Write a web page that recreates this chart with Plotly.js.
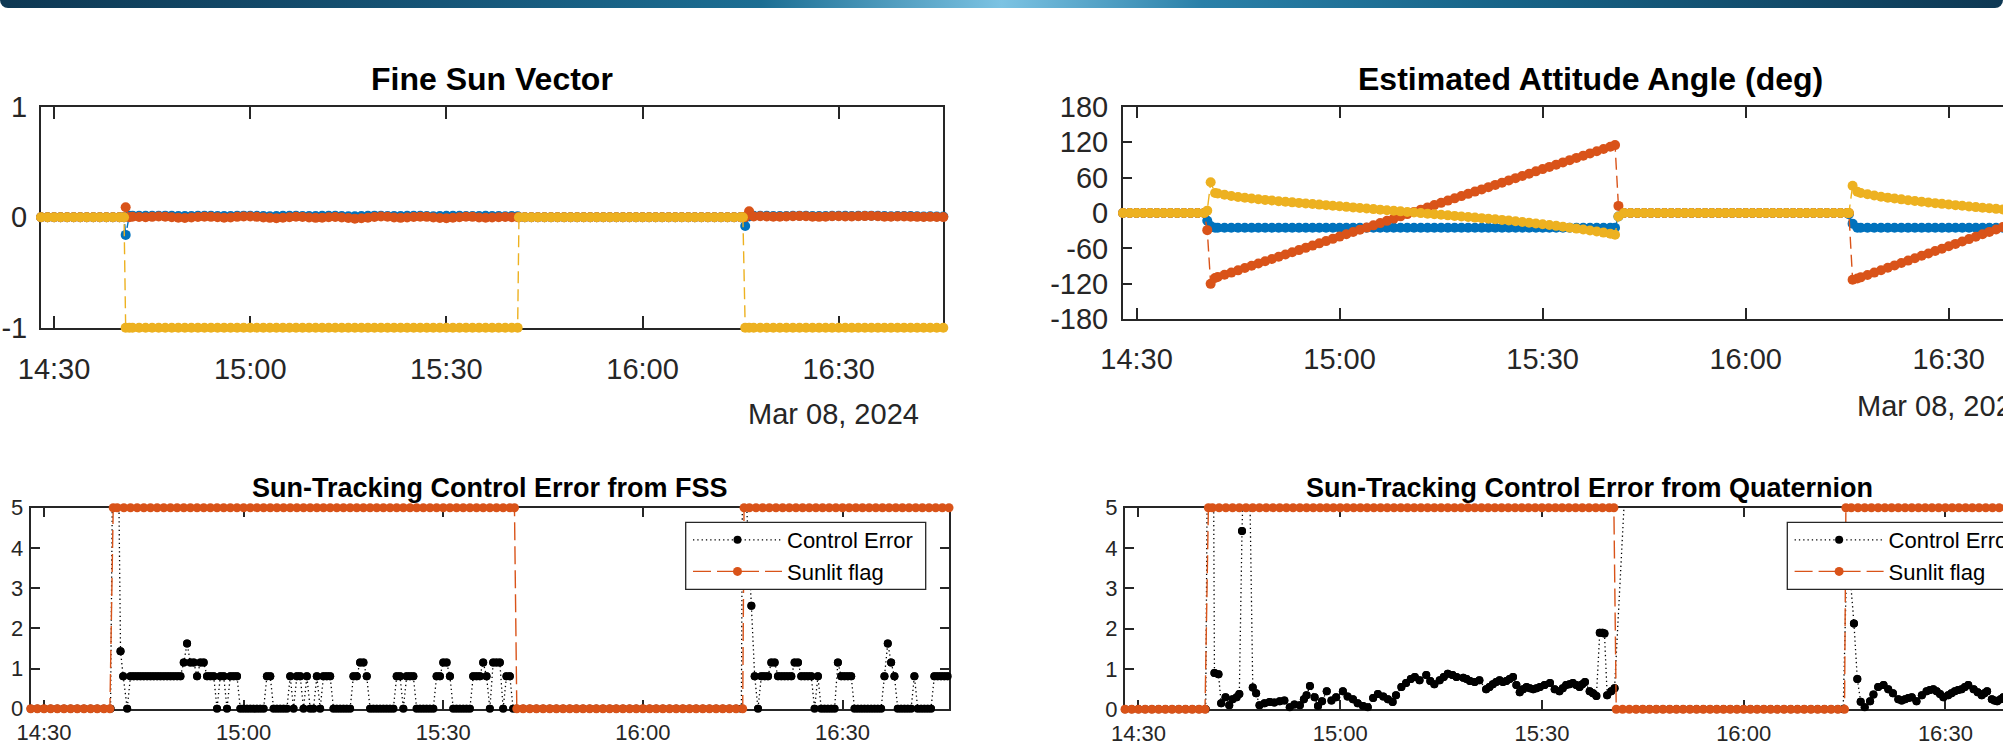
<!DOCTYPE html>
<html>
<head>
<meta charset="utf-8">
<script src="https://cdn.plot.ly/plotly-3.0.1.min.js"></script>
<style>
  html, body { margin: 0; padding: 0; width: 2003px; height: 756px; overflow: hidden; background: #fff; }
  #banner { position: absolute; left: 0; top: 0; width: 2003px; height: 8px; z-index: 10;
    border-radius: 0 0 8px 8px;
    background: linear-gradient(90deg, #0e3853 0%, #165577 22%, #1c6e93 38%, #7cc3e3 50%, #2a80a8 60%, #176488 75%, #0e3853 100%); }
  #chart { position: absolute; left: 0; top: 0; width: 2070px; height: 756px; }
</style>
</head>
<body>
<div id="banner"></div>
<div id="chart"></div>
<script>
// ---------- DATA (minutes after 14:30 on 2024-03-08) ----------
const tickMinutes = [0, 30, 60, 90, 120];
const tickLabels = ['14:30', '15:00', '15:30', '16:00', '16:30'];
const dateLabel = 'Mar 08, 2024';
const fssTickVals = [-1, 0, 1];
const fssTickText = ['-1', '0', '1'];
const attTickVals = [-180, -120, -60, 0, 60, 120, 180];
const attTickText = ['-180', '-120', '-60', '0', '60', '120', '180'];
const errTickVals = [0, 1, 2, 3, 4, 5];

// Fine Sun Vector
const fssTime = [-2,-1,0,1,2,3,4,5,6,7,8,9,10,
  10.7,10.95,11.5,
  12,13,14,15,16,17,18,19,20,21,
  22,23,24,25,26,27,28,29,30,31,
  32,33,34,35,36,37,38,39,40,41,
  42,43,44,45,46,47,48,49,50,51,
  52,53,54,55,56,57,58,59,60,61,
  62,63,64,65,66,67,68,69,70,
  70.9,71.1,
  72,73,74,75,76,77,78,79,80,81,
  82,83,84,85,86,87,88,89,90,91,
  92,93,94,95,96,97,98,99,100,101,
  102,103,104,105,
  105.35,105.7,106.3,
  107,108,109,110,111,112,113,114,115,116,
  117,118,119,120,121,122,123,124,125,126,
  127,128,129,130,131,132,133,134,135,136];
const fssX = [0,0,0,0,0,0,0,0,0,0,0,0,0,
  0,-0.16,0.012,
  0.014,0.013,0.012,0.012,0.013,0.014,0.013,0.011,0.010,0.011,
  0.012,0.013,0.012,0.011,0.010,0.011,0.013,0.014,0.013,0.012,
  0.010,0.009,0.010,0.012,0.013,0.012,0.011,0.010,0.011,0.012,
  0.013,0.012,0.010,0.008,0.009,0.011,0.013,0.014,0.013,0.011,
  0.010,0.011,0.012,0.013,0.012,0.010,0.009,0.010,0.012,0.013,
  0.012,0.011,0.010,0.011,0.012,0.011,0.010,0.009,0.010,
  0.008,0,
  0,0,0,0,0,0,0,0,0,0,
  0,0,0,0,0,0,0,0,0,0,
  0,0,0,0,0,0,0,0,0,0,
  0,0,0,0,
  0,-0.08,0.006,
  0.012,0.013,0.012,0.011,0.010,0.011,0.013,0.014,0.013,0.011,
  0.010,0.011,0.012,0.013,0.012,0.011,0.012,0.013,0.014,0.012,
  0.010,0.009,0.010,0.011,0.010,0.008,0.007,0.008,0.007,0.006];
const fssY = [0,0,0,0,0,0,0,0,0,0,0,0,0,
  0,0.09,0.0,
  0.004,0.002,0.000,0.003,0.006,0.004,0.000,-0.004,-0.007,-0.003,
  0.002,0.005,0.003,-0.001,-0.005,-0.002,0.003,0.006,0.007,0.003,
  -0.002,-0.006,-0.009,-0.005,0.000,0.004,0.002,-0.003,-0.006,-0.004,
  0.000,0.002,-0.003,-0.008,-0.013,-0.009,-0.004,0.002,0.006,0.004,
  -0.002,-0.006,-0.003,0.002,0.005,0.003,-0.003,-0.008,-0.010,-0.005,
  0.000,0.004,0.003,-0.002,-0.005,-0.003,0.000,0.002,0.000,
  0.0,0,
  0,0,0,0,0,0,0,0,0,0,
  0,0,0,0,0,0,0,0,0,0,
  0,0,0,0,0,0,0,0,0,0,
  0,0,0,0,
  0,0.0,0.054,
  0.006,0.008,0.007,0.005,0.004,0.006,0.009,0.010,0.008,0.005,
  0.003,0.005,0.008,0.009,0.007,0.006,0.008,0.010,0.011,0.008,
  0.005,0.004,0.006,0.007,0.005,0.003,0.002,0.003,0.002,0.001];
const fssZ = [0,0,0,0,0,0,0,0,0,0,0,0,0,
  0,-1,-1,
  -1,-1,-1,-1,-1,-1,-1,-1,-1,-1,
  -1,-1,-1,-1,-1,-1,-1,-1,-1,-1,
  -1,-1,-1,-1,-1,-1,-1,-1,-1,-1,
  -1,-1,-1,-1,-1,-1,-1,-1,-1,-1,
  -1,-1,-1,-1,-1,-1,-1,-1,-1,-1,
  -1,-1,-1,-1,-1,-1,-1,-1,-1,
  -1,0,
  0,0,0,0,0,0,0,0,0,0,
  0,0,0,0,0,0,0,0,0,0,
  0,0,0,0,0,0,0,0,0,0,
  0,0,0,0,
  0,-1,-1,
  -1,-1,-1,-1,-1,-1,-1,-1,-1,-1,
  -1,-1,-1,-1,-1,-1,-1,-1,-1,-1,
  -1,-1,-1,-1,-1,-1,-1,-1,-1,-1];

// Estimated attitude angles (deg)
const attTime = [-2,-1,0,1,2,3,4,5,6,7,8,9,10,
  10.45,10.95,11.6,
  12,13,14,15,16,17,18,19,20,21,
  22,23,24,25,26,27,28,29,30,31,
  32,33,34,35,36,37,38,39,40,41,
  42,43,44,45,46,47,48,49,50,51,
  52,53,54,55,56,57,58,59,60,61,
  62,63,64,65,66,67,68,69,70,
  70.7,71.2,
  72,73,74,75,76,77,78,79,80,81,
  82,83,84,85,86,87,88,89,90,91,
  92,93,94,95,96,97,98,99,100,101,
  102,103,104,105,
  105.25,105.8,106.5,
  107,108,109,110,111,112,113,114,115,116,
  117,118,119,120,121,122,123,124,125,126,
  127,128,129,130,131,132,133,134,135,136];
const attBlue = [0,0,0,0,0,0,0,0,0,0,0,0,0,
  -13,-22,-25,
  -25,-25,-25,-25,-25,-25,-25,-25,-25,-25,
  -25,-25,-25,-25,-25,-25,-25,-25,-25,-25,
  -25,-25,-25,-25,-25,-25,-25,-25,-25,-25,
  -25,-25,-25,-25,-25,-25,-25,-25,-25,-25,
  -25,-25,-25,-25,-25,-25,-25,-25,-25,-25,
  -25,-25,-25,-25,-25,-25,-25,-25,-25,
  -25,-6,
  0,0,0,0,0,0,0,0,0,0,
  0,0,0,0,0,0,0,0,0,0,
  0,0,0,0,0,0,0,0,0,0,
  0,0,0,0,
  -2,-18,-25,
  -25,-25,-25,-25,-25,-25,-25,-25,-25,-25,
  -25,-25,-25,-25,-25,-25,-25,-25,-25,-25,
  -25,-25,-25,-25,-25,-25,-25,-25,-25,-25];
const attOrange = [0,0,0,0,0,0,0,0,0,0,0,0,0,
  -29,-120,-110,
  -108.5,-104.7,-100.9,-97.1,-93.2,-89.4,-85.6,-81.8,-78.0,-74.2,
  -70.4,-66.6,-62.8,-59.0,-55.2,-51.4,-47.6,-43.8,-40.0,-36.1,
  -32.3,-28.5,-24.7,-20.9,-17.1,-13.3,-9.5,-5.7,-1.9,1.9,
  5.7,9.5,13.4,17.2,21.0,24.8,28.6,32.4,36.2,40.0,
  43.8,47.6,51.4,55.2,59.0,62.8,66.6,70.5,74.3,78.1,
  81.9,85.7,89.5,93.3,97.1,100.9,104.7,108.5,112.3,
  115,12,
  0,0,0,0,0,0,0,0,0,0,
  0,0,0,0,0,0,0,0,0,0,
  0,0,0,0,0,0,0,0,0,0,
  0,0,0,0,
  0,-113,-111,
  -109.0,-104.9,-100.9,-96.8,-92.8,-88.7,-84.7,-80.6,-76.6,-72.5,
  -68.5,-64.4,-60.4,-56.3,-52.3,-48.2,-44.2,-40.1,-36.1,-32.0,
  -28.0,-23.9,-19.9,-15.8,-11.8,-7.7,-3.7,0.4,4.4,8.5];
const attYellow = [0,0,0,0,0,0,0,0,0,0,0,0,0,
  4,52,34,
  33.0,31.0,28.7,27.1,25.8,24.6,23.4,22.2,21.1,20.0,
  19.0,18.0,17.1,16.1,15.2,14.2,13.3,12.3,11.4,10.4,
  9.5,8.5,7.6,6.6,5.7,4.7,3.8,2.8,1.8,0.8,
  -0.2,-1.1,-2.1,-3.0,-4.0,-4.9,-5.9,-6.8,-7.8,-8.7,
  -9.7,-10.6,-11.7,-12.8,-14.0,-15.2,-16.4,-17.7,-19.0,-20.4,
  -21.8,-23.3,-24.8,-26.4,-28.0,-29.7,-31.4,-33.2,-35.0,
  -36.7,-6,
  0,0,0,0,0,0,0,0,0,0,
  0,0,0,0,0,0,0,0,0,0,
  0,0,0,0,0,0,0,0,0,0,
  0,0,0,0,
  0,46,36,
  34,31.8,29.6,27.6,26,24.5,23.1,21.7,20.4,19.1,
  17.9,16.7,15.5,14.4,13.3,12.2,11.1,10.0,9.0,8.0,
  7.0,6.0,5.0,4.0,3.0,2.1,1.2,0.3,-0.6,-1.5];

// Sunlit flag (0 = eclipse, 5 = sunlit)
const sunTime = [-2,-1,0,1,2,3,4,5,6,7,8,9,
  9.9,10.4,
  11,12,13,14,15,16,17,18,19,20,
  21,22,23,24,25,26,27,28,29,30,
  31,32,33,34,35,36,37,38,39,40,
  41,42,43,44,45,46,47,48,49,50,
  51,52,53,54,55,56,57,58,59,60,
  61,62,63,64,65,66,67,68,69,70,
  70.7,71.05,
  72,73,74,75,76,77,78,79,80,81,
  82,83,84,85,86,87,88,89,90,91,
  92,93,94,95,96,97,98,99,100,101,
  102,103,104,105,
  105.2,
  106,107,108,109,110,111,112,113,114,115,
  116,117,118,119,120,121,122,123,124,125,
  126,127,128,129,130,131,132,133,134,135,136];
const sunFlag = [0,0,0,0,0,0,0,0,0,0,0,0,
  0,5,
  5,5,5,5,5,5,5,5,5,5,
  5,5,5,5,5,5,5,5,5,5,
  5,5,5,5,5,5,5,5,5,5,
  5,5,5,5,5,5,5,5,5,5,
  5,5,5,5,5,5,5,5,5,5,
  5,5,5,5,5,5,5,5,5,5,
  5,0,
  0,0,0,0,0,0,0,0,0,0,
  0,0,0,0,0,0,0,0,0,0,
  0,0,0,0,0,0,0,0,0,0,
  0,0,0,0,
  5,
  5,5,5,5,5,5,5,5,5,5,
  5,5,5,5,5,5,5,5,5,5,
  5,5,5,5,5,5,5,5,5,5,5];

// Sun-tracking control error from FSS (deg)
const ctFssTime = [-2,-1,0,1,2,3,4,5,6,7,8,9,10,
  10.7,11.5,11.9,12.5,
  13,13.5,14,14.5,15,15.5,16,16.5,17,17.5,18,18.5,19,19.5,20,20.5,
  21,21.5,22,22.5,23,23.5,24,24.5,25,25.5,
  26,26.5,27,27.5,28,28.5,29,29.5,30,30.5,
  31,31.5,32,32.5,33,33.5,34,34.5,35,35.5,
  36,36.5,37,37.5,38,38.5,39,39.5,40,40.5,
  41,41.5,42,42.5,43,43.5,44,44.5,45,45.5,
  46,46.5,47,47.5,48,48.5,49,49.5,50,50.5,
  51,51.5,52,52.5,53,53.5,54,54.5,55,55.5,
  56,56.5,57,57.5,58,58.5,59,59.5,60,60.5,
  61,61.5,62,62.5,63,63.5,64,64.5,65,65.5,
  66,66.5,67,67.5,68,68.5,69,69.5,70,70.5,
  71,72,73,74,75,76,77,78,79,80,81,82,83,84,85,86,87,
  88,89,90,91,92,93,94,95,96,97,98,99,100,101,102,103,104,
  104.8,105,106.3,106.8,107.3,107.8,108.3,108.8,109.3,109.8,
  110.3,110.8,111.3,111.8,112.3,112.8,113.3,113.8,114.3,114.8,
  115.3,115.8,116.3,116.8,117.3,117.8,118.3,118.8,119.3,119.8,
  120.3,120.8,121.3,121.8,122.3,122.8,123.3,123.8,124.3,124.8,
  125.3,125.8,126.3,126.8,127.3,127.8,128.3,128.8,129.3,129.8,
  130.3,130.8,131.3,131.8,132.3,132.8,133.3,133.8,134.3,134.8,
  135.3,135.8];
const ctFssErr = [0,0,0,0,0,0,0,0,0,0,0,0,0,
  13.8,1.43,0.81,0,
  0.81,0.81,0.81,0.81,0.81,0.81,0.81,0.81,0.81,0.81,0.81,0.81,0.81,0.81,0.81,0.81,
  1.15,1.62,1.15,1.15,0.81,1.15,1.15,0.81,0.81,0.81,
  0,0.81,0.81,0,0.81,0.81,0.81,0,0,0,
  0,0,0,0,0,0.81,0.81,0,0,0,
  0,0,0.81,0,0.81,0.81,0,0.81,0,0,
  0.81,0,0.81,0.81,0.81,0,0,0,0,0,
  0,0.81,0.81,1.15,1.15,0.81,0,0,0,0,
  0,0,0,0,0.81,0.81,0,0.81,0.81,0.81,
  0,0,0,0,0,0,0.81,0.81,1.15,1.15,
  0.81,0,0,0,0,0,0,0.81,0.81,0.81,
  1.15,0.81,0,1.15,1.15,1.15,0,0.81,0.81,0,
  0,0,0,0,0,0,0,0,0,0,0,0,0,0,0,0,0,
  0,0,0,0,0,0,0,0,0,0,0,0,0,0,0,0,0,
  0,7.1,2.56,0.81,0,0.81,0.81,0.81,1.15,1.15,
  0.81,0.81,0.81,0.81,0.81,1.15,1.15,0.81,0.81,0.81,
  0.81,0,0.81,0,0,0,0,0,1.15,0.81,
  0.81,0.81,0.81,0,0,0,0,0,0,0,
  0,0,0.81,1.62,1.15,0.81,0,0,0,0,
  0,0.81,0,0,0,0,0,0.81,0.81,0.81,
  0.81,0.81];

// Sun-tracking control error from quaternion (deg)
const ctQTime = [-2,-1,0,1,2,3,4,5,6,7,8,9,10,
  10.8,11.3,11.9,12.3,12.95,13.5,14.0,14.6,15.0,15.4,16.2,
  17.0,17.5,18.0,18.75,19.5,20.2,21.0,21.7,22.5,23.2,
  24.0,24.6,25.0,25.5,26.2,26.7,27.3,28.0,28.7,29.4,
  30.4,31.1,31.9,32.6,33.4,34.1,34.9,35.6,36.4,37.1,
  37.8,38.3,39.1,39.8,40.5,41.1,41.8,42.8,43.4,44.0,
  44.8,45.4,46.0,46.7,47.3,48.3,48.8,49.3,50.0,50.7,
  51.7,52.2,52.7,53.2,53.7,54.2,54.7,55.2,55.7,56.2,
  56.7,57.2,57.7,58.2,58.7,59.2,59.7,60.4,61.2,61.9,
  62.6,63.1,63.6,64.1,64.6,65.1,65.6,66.0,66.4,67.1,
  67.6,68.1,68.6,69.0,69.3,69.7,70.3,70.8,72.6,73,
  74,75,76,77,78,79,80,81,82,83,84,85,86,87,88,89,
  90,91,92,93,94,95,96,97,98,99,100,101,102,103,104,
  104.8,105.4,106.4,106.9,107.4,108.0,108.8,109.3,110.0,
  110.8,111.5,112.2,113.0,113.5,114.0,114.5,115.0,115.7,116.5,
  117.2,117.7,118.2,118.7,119.2,119.7,120.4,120.9,121.4,121.9,
  122.4,122.9,123.4,124.2,124.8,125.4,125.8,126.2,126.9,127.3,
  127.7,128.2,128.6,129.1,129.5,130.0,130.5,131.0,131.5,132.0,
  132.5,133.0,133.5,134.0,134.5,135.0,135.5,136.0];
const ctQErr = [0,0,0,0,0,0,0,0,0,0,0,0,0,
  20,0.9,0.87,0.15,0.3,0.1,0.25,0.3,0.38,4.42,9.5,
  0.54,0.4,0.1,0.15,0.18,0.17,0.2,0.22,0.05,0.12,
  0.1,0.25,0.35,0.58,0.3,0.08,0.2,0.45,0.22,0.3,
  0.45,0.32,0.25,0.15,0.08,0.05,0.28,0.38,0.32,0.25,
  0.18,0.35,0.55,0.65,0.75,0.8,0.72,0.85,0.7,0.62,
  0.72,0.8,0.88,0.85,0.8,0.78,0.75,0.7,0.68,0.72,
  0.5,0.55,0.62,0.68,0.72,0.68,0.7,0.75,0.8,0.6,
  0.42,0.5,0.55,0.52,0.5,0.52,0.55,0.6,0.65,0.5,
  0.45,0.52,0.6,0.62,0.65,0.6,0.55,0.62,0.68,0.45,
  0.4,0.33,1.9,1.9,1.88,0.35,0.45,0.52,6.3,null,
  0,0,0,0,0,0,0,0,0,0,0,0,0,0,0,0,
  0,0,0,0,0,0,0,0,0,0,0,0,0,0,0,
  0,4.2,2.13,0.75,0.19,0.05,0.2,0.37,0.55,
  0.6,0.5,0.4,0.25,0.22,0.25,0.28,0.3,0.2,0.35,
  0.45,0.48,0.5,0.45,0.38,0.3,0.35,0.4,0.45,0.48,
  0.5,0.55,0.6,0.5,0.42,0.35,0.4,0.45,0.25,0.22,
  0.2,0.25,0.3,0.32,0.35,0.38,0.4,0.35,0.3,0.38,
  0.45,0.42,0.4,0.38,0.35,0.38,0.4,0.38];

// ---------- helpers ----------
const T0 = Date.UTC(2024, 2, 8, 14, 30, 0);
function toTime(m) {
  return new Date(T0 + Math.round(m * 60000)).toISOString().replace('T', ' ').replace('Z', '');
}
const asTimes = arr => arr.map(toTime);
const inRange = (arr, hi) => arr.map(v => (v === null || v > hi) ? null : v);

const C_BLUE = '#0072BD', C_ORANGE = '#D95319', C_YELLOW = '#EDB120';
const AX = '#262626';
const FONT = 'Liberation Sans, Arial, Helvetica, sans-serif';
const W = 2070, H = 756;
const px = v => v / W;
const py = v => 1 - v / H;

function band(name, t, y, color, xa, ya) {
  return { type: 'scatter', mode: 'lines+markers', name: name, x: asTimes(t), y: y,
    xaxis: xa, yaxis: ya, showlegend: false, cliponaxis: false, hoverinfo: 'skip',
    line: { color: color, width: 1.4, dash: '12px,6px' },
    marker: { color: color, size: 10 } };
}

const traces = [
  band('x', fssTime, fssX, C_BLUE, 'x', 'y'),
  band('y', fssTime, fssY, C_ORANGE, 'x', 'y'),
  band('z', fssTime, fssZ, C_YELLOW, 'x', 'y'),
  band('roll', attTime, attBlue, C_BLUE, 'x2', 'y2'),
  band('pitch', attTime, attOrange, C_ORANGE, 'x2', 'y2'),
  band('yaw', attTime, attYellow, C_YELLOW, 'x2', 'y2')
];

function errTraces(t, e, xa, ya, lg) {
  return [
    { type: 'scatter', mode: 'lines+markers', name: 'Control Error', x: asTimes(t), y: e,
      xaxis: xa, yaxis: ya, legend: lg, connectgaps: false, hoverinfo: 'skip',
      line: { color: '#000', width: 1.3, dash: '1.3px,3px' },
      marker: { color: '#000', size: 8 } },
    { type: 'scatter', mode: 'markers', name: 'Control Error', x: asTimes(t), y: inRange(e, 5),
      xaxis: xa, yaxis: ya, showlegend: false, cliponaxis: false, hoverinfo: 'skip',
      marker: { color: '#000', size: 8 } },
    { type: 'scatter', mode: 'lines+markers', name: 'Sunlit flag', x: asTimes(sunTime), y: sunFlag,
      xaxis: xa, yaxis: ya, legend: lg, cliponaxis: false, hoverinfo: 'skip',
      line: { color: C_ORANGE, width: 1.4, dash: '18px,6px' },
      marker: { color: C_ORANGE, size: 9 } }
  ];
}
traces.push(...errTraces(ctFssTime, ctFssErr, 'x3', 'y3', 'legend'));
traces.push(...errTraces(ctQTime, ctQErr, 'x4', 'y4', 'legend2'));

const xRange = [toTime(-2), toTime(136)];
function xAxis(domain, anchor, fs, tl, standoff) {
  return { domain: domain, anchor: anchor, type: 'date', range: xRange,
    tickvals: asTimes(tickMinutes), ticktext: tickLabels,
    ticks: 'inside', ticklen: tl, tickwidth: 2, tickcolor: AX,
    showline: true, linecolor: AX, linewidth: 2, mirror: 'ticks',
    showgrid: false, zeroline: false, layer: 'below traces',
    tickfont: { family: FONT, size: fs, color: AX }, ticklabelstandoff: standoff };
}
function yAxis(domain, anchor, range, vals, text, fs, tl, standoff) {
  return { domain: domain, anchor: anchor, range: range, tickvals: vals, ticktext: text,
    ticks: 'inside', ticklen: tl, tickwidth: 2, tickcolor: AX,
    showline: true, linecolor: AX, linewidth: 2, mirror: 'ticks',
    showgrid: false, zeroline: false, layer: 'below traces',
    tickfont: { family: FONT, size: fs, color: AX }, ticklabelstandoff: standoff };
}

function title(text, xc, yc, size) {
  return { text: text, xref: 'paper', yref: 'paper', x: px(xc), y: py(yc),
    xanchor: 'center', yanchor: 'middle', showarrow: false,
    font: { family: FONT, size: size, color: '#000', weight: 'bold' } };
}
function legendBox(x, y) {
  return { x: px(x), y: py(y), xanchor: 'left', yanchor: 'top',
    bgcolor: 'rgba(255,255,255,0)', borderwidth: 0,
    font: { family: FONT, size: 22, color: '#000' }, itemwidth: 89,
    tracegroupgap: 0 };
}
function legendFrame(x0, y0, x1, y1) {
  return { type: 'rect', xref: 'paper', yref: 'paper', layer: 'above',
    x0: px(x0), x1: px(x1), y0: py(y1), y1: py(y0),
    fillcolor: '#ffffff', line: { color: AX, width: 1.3 } };
}

const layout = {
  width: W, height: H, margin: { l: 0, r: 0, t: 0, b: 0 },
  paper_bgcolor: '#fff', plot_bgcolor: '#fff', showlegend: true,
  xaxis: xAxis([px(41), px(943.3)], 'y', 29, 12, 14),
  yaxis: yAxis([py(327.7), py(106.7)], 'x', [-1, 1], fssTickVals, fssTickText, 29, 9, 6),
  xaxis2: xAxis([px(1123), px(2057)], 'y2', 29, 11, 13),
  yaxis2: yAxis([py(319.3), py(106.7)], 'x2', [-180, 180], attTickVals, attTickText, 29, 9, 7),
  xaxis3: xAxis([px(30.7), px(949)], 'y3', 22, 9, 3),
  yaxis3: yAxis([py(708.7), py(507.7)], 'x3', [0, 5], errTickVals, errTickVals.map(String), 22, 9, 1),
  xaxis4: xAxis([px(1125), px(2053)], 'y4', 22, 9, 3),
  yaxis4: yAxis([py(709.3), py(507.7)], 'x4', [0, 5], errTickVals, errTickVals.map(String), 22, 9, 1),
  legend: legendBox(688, 519),
  legend2: legendBox(1789.6, 519),
  shapes: [
    legendFrame(685.7, 522.3, 925.7, 589.3),
    legendFrame(1787.3, 522.3, 2027.3, 589.3)
  ],
  annotations: [
    title('Fine Sun Vector', 492, 79, 32),
    title('Estimated Attitude Angle (deg)', 1590, 79, 32),
    title('Sun-Tracking Control Error from FSS', 490, 488, 27),
    title('Sun-Tracking Control Error from Quaternion', 1589, 488, 27),
    { text: dateLabel, xref: 'paper', yref: 'paper', x: px(833), y: py(414),
      xanchor: 'center', yanchor: 'middle', showarrow: false,
      font: { family: FONT, size: 29, color: AX } },
    { text: dateLabel, xref: 'paper', yref: 'paper', x: px(1942), y: py(405.5),
      xanchor: 'center', yanchor: 'middle', showarrow: false,
      font: { family: FONT, size: 29, color: AX } }
  ]
};

Plotly.newPlot('chart', traces, layout, { staticPlot: true, displayModeBar: false });
</script>
</body>
</html>
